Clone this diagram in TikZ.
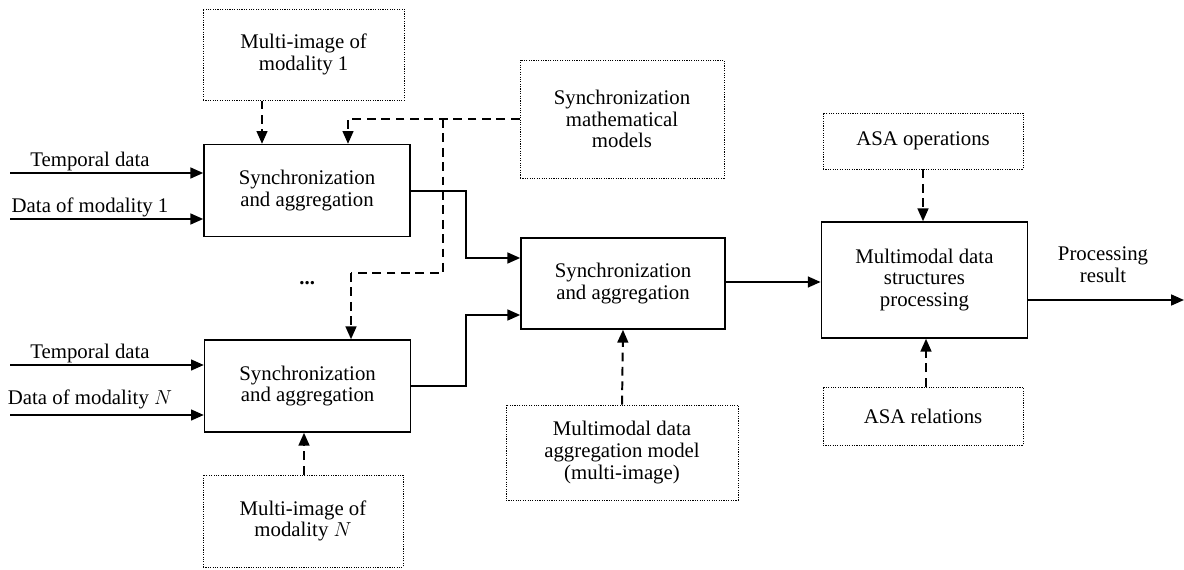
\documentclass[tikz,border=0pt]{standalone}
\usepackage{fontspec}
\setmainfont{Liberation Serif}
\usetikzlibrary{arrows.meta}

\tikzset{
  blockbox/.style={draw, line width=1.1pt, minimum width=5.15cm, minimum height=2.3cm, align=center, inner sep=0pt},
  sourcebox/.style={draw, line width=0.7pt, dash pattern=on 0.8pt off 0.9pt, align=center, inner sep=0pt},
  flow/.style={line width=1.4pt, -{Triangle[length=3.2mm,width=2.7mm]}},
  ctrl/.style={line width=1.4pt, dash pattern=on 2.2mm off 1.4mm, -{Triangle[length=3.2mm,width=2.7mm]}},
  ctrlline/.style={line width=1.4pt, dash pattern=on 2.2mm off 1.4mm}
}

\begin{document}
\begin{tikzpicture}[font=\fontsize{14.8}{15.4}\selectfont]
    \useasboundingbox (0.0, 0.0) rectangle (29.6, 14.225);

    % main blocks
    \node[blockbox] (sync1) at (7.675, 9.46) {Synchronization\\and aggregation};
    \node[blockbox] (sync2) at (7.69, 4.575) {Synchronization\\and aggregation};
    \node[blockbox, minimum width=5.1cm, minimum height=2.28cm] (sync3) at (15.575, 7.14) {Synchronization\\and aggregation};
    \node[blockbox, minimum height=2.9cm] (proc) at (23.11, 7.225) {Multimodal data\\structures\\processing};

    % dotted source boxes
    \node[sourcebox, minimum width=5.03cm, minimum height=2.28cm] (mimg1) at (7.59, 12.86) {Multi-image of\\modality 1};
    \node[sourcebox, minimum width=5.0cm, minimum height=2.3cm] (mimgN) at (7.575, 1.2) {Multi-image of\\modality $N$};
    \node[sourcebox, minimum width=5.1cm, minimum height=2.95cm] (smm) at (15.55, 11.25) {Synchronization\\mathematical\\models};
    \node[sourcebox, minimum width=5.8cm, minimum height=2.38cm] (aggm) at (15.55, 2.91) {Multimodal data\\aggregation model\\(multi-image)};
    \node[sourcebox, minimum width=5.0cm, minimum height=1.4cm] (asaop) at (23.075, 10.7) {ASA operations};
    \node[sourcebox, minimum width=5.0cm, minimum height=1.45cm] (asarel) at (23.075, 3.825) {ASA relations};

    % input labels
    \node (lt1) at (2.25, 10.2) {Temporal data};
    \node (ld1) at (2.25, 9.05) {Data of modality 1};
    \node (lt2) at (2.25, 5.4) {Temporal data};
    \node (ld2) at (2.25, 4.25) {Data of modality $N$};
    \node (dots) at (7.68, 7.15) {\textbf{...}};
    \node[align=center] (res) at (27.575, 7.6) {Processing\\result};

    \coordinate (in1) at (0.25, 9.9);
    \coordinate (in2) at (0.25, 8.75);
    \coordinate (in3) at (0.25, 5.1);
    \coordinate (in4) at (0.25, 3.85);
    \coordinate (out) at (29.6, 6.725);

    % data flows
    \draw[flow] (in1) -- (in1 -| sync1.west);
    \draw[flow] (in2) -- (in2 -| sync1.west);
    \draw[flow] (in3) -- (in3 -| sync2.west);
    \draw[flow] (in4) -- (in4 -| sync2.west);
    \draw[flow] (sync1.east) -- (11.65, 9.46) -- (11.65, 7.775) -- (sync3.west |- 0, 7.775);
    \draw[flow] (sync2.east) -- (11.65, 4.575) -- (11.65, 6.35) -- (sync3.west |- 0, 6.35);
    \draw[flow] (sync3.east |- 0, 7.175) -- (proc.west |- 0, 7.175);
    \draw[flow] (proc.east |- out) -- (out);

    % control flows
    \draw[ctrl] (mimg1.south -| 6.55, 0) -- (sync1.north -| 6.55, 0);
    \draw[ctrl] (smm.west) -- (8.7, 11.25) -- (sync1.north -| 8.7, 0);
    \draw[ctrlline] (11.075, 11.25) -- (11.075, 7.4) -- (8.775, 7.4);
    \draw[ctrl] (8.775, 7.4) -- (sync2.north -| 8.775, 0);
    \draw[ctrl] (mimgN.north -| 7.6, 0) -- (sync2.south -| 7.6, 0);
    \draw[ctrl] (aggm.north) -- (sync3.south);
    \draw[ctrl] (asaop.south) -- (proc.north -| asaop.south);
    \draw[ctrl] (asarel.north -| 23.15, 0) -- (proc.south -| 23.15, 0);

  \end{tikzpicture}
\end{document}
